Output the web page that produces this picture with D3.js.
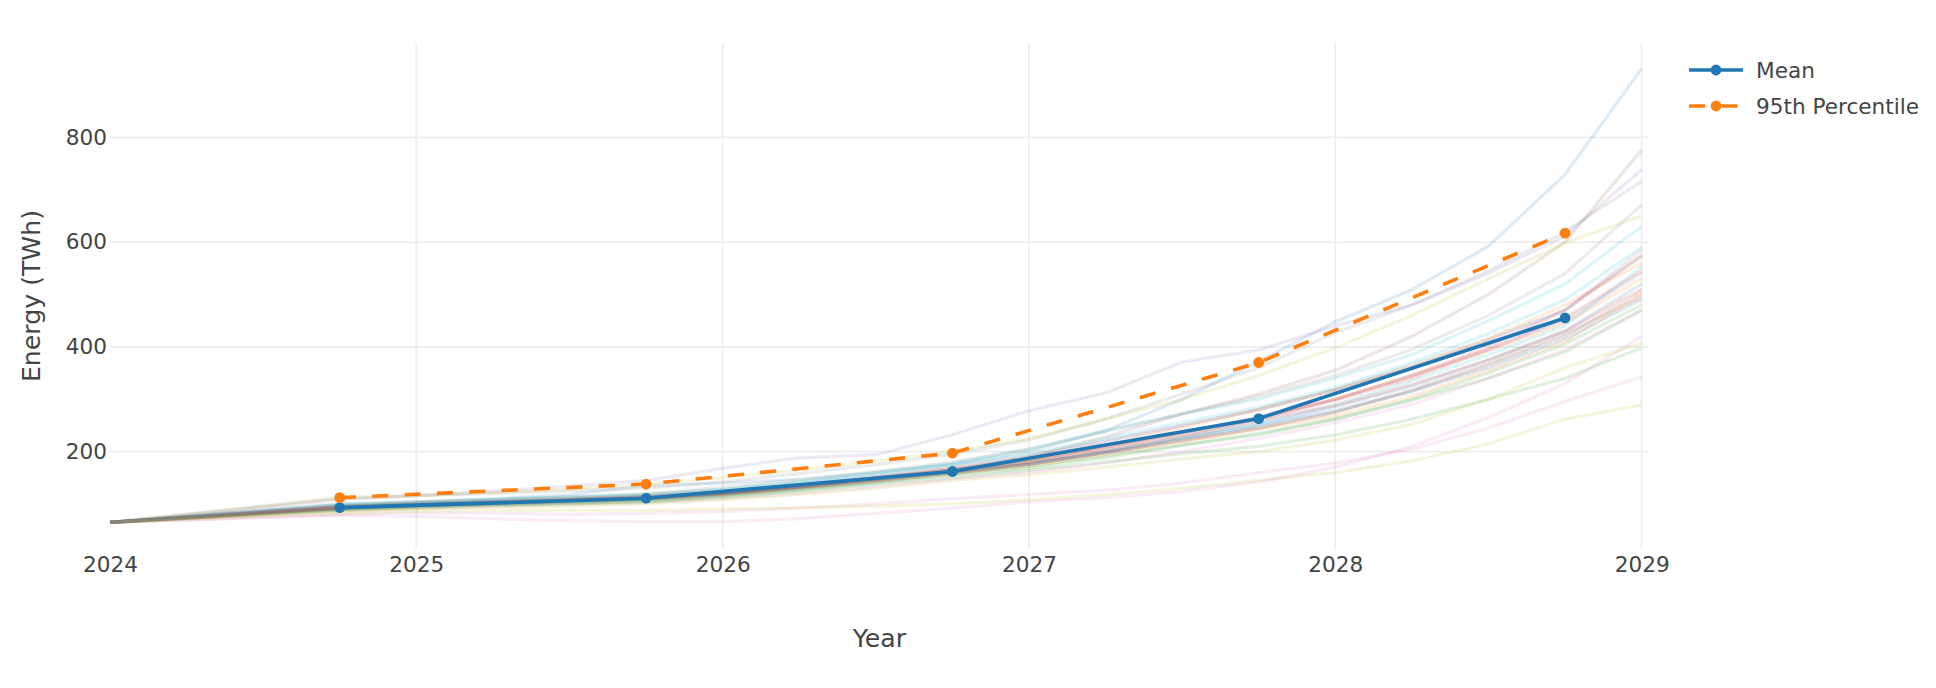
<!DOCTYPE html>
<html>
<head>
<meta charset="utf-8">
<script src="https://cdn.jsdelivr.net/npm/d3@7"></script>
<style>
  html, body { margin: 0; padding: 0; background: #fff; }
  svg { display: block; }
  text { font-family: "DejaVu Sans", Verdana, sans-serif; fill: #444; }
</style>
</head>
<body>
<div id="chart"></div>
<script>
// ---- data ----
const simYears = [2024, 2024.75, 2025, 2025.25, 2025.5, 2025.75, 2026, 2026.25, 2026.5, 2026.75,
                  2027, 2027.25, 2027.5, 2027.75, 2028, 2028.25, 2028.5, 2028.75, 2029];

const simulations = [
  [65, 100, 104, 110, 118, 135, 140, 147, 160, 175, 200, 240, 300, 372, 448, 509, 592, 729, 931],
  [65, 96, 101, 105, 110, 115, 124, 136, 150, 168, 184, 212, 246, 280, 318, 362, 415, 480, 560],
  [65, 88, 94, 98, 101, 105, 112, 124, 138, 150, 164, 180, 196, 210, 232, 262, 300, 340, 398],
  [65, 95, 100, 104, 109, 113, 121, 134, 149, 165, 184, 208, 236, 265, 300, 345, 400, 470, 575],
  [65, 108, 116, 124, 134, 145, 168, 188, 194, 232, 278, 312, 371, 394, 440, 480, 540, 612, 738],
  [65, 94, 99, 103, 108, 112, 120, 132, 148, 165, 190, 228, 272, 310, 355, 420, 500, 600, 776],
  [65, 80, 83, 82, 80, 82, 86, 92, 100, 110, 118, 126, 140, 160, 178, 205, 245, 296, 343],
  [65, 112, 116, 120, 125, 130, 142, 158, 175, 195, 222, 262, 310, 360, 427, 480, 545, 620, 716],
  [65, 110, 116, 122, 128, 138, 150, 165, 182, 200, 225, 262, 300, 345, 398, 460, 530, 598, 650],
  [65, 98, 103, 108, 113, 118, 128, 142, 160, 178, 205, 240, 272, 300, 340, 385, 450, 520, 630],
  [65, 92, 97, 101, 106, 110, 120, 134, 150, 165, 180, 200, 225, 250, 285, 325, 375, 430, 520],
  [65, 91, 96, 100, 104, 108, 118, 130, 144, 158, 172, 194, 218, 243, 268, 305, 355, 410, 500],
  [65, 88, 93, 97, 100, 104, 114, 126, 140, 155, 168, 188, 212, 235, 262, 298, 340, 390, 470],
  [65, 93, 98, 102, 107, 112, 120, 132, 146, 162, 180, 205, 232, 262, 298, 340, 395, 455, 545],
  [65, 94, 99, 104, 109, 114, 122, 136, 152, 168, 190, 220, 250, 280, 318, 360, 410, 470, 585],
  [65, 92, 97, 101, 105, 110, 119, 132, 147, 162, 176, 198, 222, 245, 275, 315, 365, 420, 505],
  [65, 87, 91, 95, 99, 102, 110, 120, 133, 148, 160, 178, 200, 225, 255, 290, 340, 395, 470],
  [65, 99, 104, 109, 114, 120, 132, 146, 162, 180, 205, 238, 272, 305, 345, 395, 460, 540, 671],
  [65, 82, 86, 87, 88, 88, 90, 93, 96, 100, 108, 118, 130, 145, 160, 182, 215, 262, 289],
  [65, 93, 98, 102, 107, 112, 120, 132, 146, 160, 178, 202, 228, 255, 290, 335, 385, 440, 553],
  [65, 90, 95, 99, 104, 108, 117, 130, 145, 160, 176, 198, 224, 250, 278, 315, 360, 415, 490],
  [65, 95, 100, 104, 109, 114, 124, 136, 150, 165, 182, 208, 236, 265, 300, 345, 392, 445, 530],
  [65, 89, 94, 98, 102, 106, 116, 128, 142, 158, 172, 192, 212, 232, 262, 300, 350, 405, 480],
  [65, 92, 97, 101, 106, 110, 118, 130, 143, 158, 176, 200, 228, 258, 288, 328, 375, 430, 510],
  [65, 95, 100, 105, 109, 114, 122, 135, 150, 165, 184, 210, 236, 262, 300, 345, 395, 450, 540],
  [65, 92, 97, 101, 106, 110, 120, 133, 148, 162, 176, 198, 220, 244, 275, 318, 368, 425, 495],
  [65, 78, 76, 72, 68, 66, 66, 72, 82, 92, 104, 112, 124, 142, 170, 210, 265, 330, 420],
  [65, 96, 101, 106, 111, 116, 126, 139, 154, 172, 192, 220, 250, 280, 318, 365, 415, 470, 573],
  [65, 86, 90, 93, 96, 100, 108, 118, 130, 145, 156, 170, 186, 200, 222, 252, 300, 360, 407],
  [65, 98, 103, 108, 113, 118, 128, 141, 157, 175, 196, 225, 256, 285, 322, 370, 425, 490, 590]
];

const statYears = [2024.75, 2025.75, 2026.75, 2027.75, 2028.75];
const meanValues = [93, 111, 162, 263, 455];
const p95Values = [112, 138, 197, 370, 617];

const xTickValues = [2024, 2025, 2026, 2027, 2028, 2029];
const yTickValues = [200, 400, 600, 800];

const seriesNames = ["Mean", "95th Percentile"];
const palette = ["#1f77b4", "#ff7f0e", "#2ca02c", "#d62728", "#9467bd",
                 "#8c564b", "#e377c2", "#7f7f7f", "#bcbd22", "#17becf"];

// ---- layout ----
const W = 1936, H = 688;
const plot = { left: 110, right: 1649, top: 43, bottom: 549 };
const S = 1.8; // plot scale

const svg = d3.select("#chart").append("svg").attr("width", W).attr("height", H);

const x = d3.scaleLinear().domain([2024, 2029.024]).range([plot.left, plot.right]);
const y = d3.scaleLinear().domain([14, 980]).range([plot.bottom, plot.top]);

// grid
const grid = svg.append("g");
grid.selectAll("line.h").data(yTickValues).join("line")
  .attr("x1", plot.left).attr("x2", plot.right)
  .attr("y1", d => y(d)).attr("y2", d => y(d))
  .attr("stroke", "#eee").attr("stroke-width", S);
grid.selectAll("line.v").data(xTickValues.filter(d => d > 2024)).join("line")
  .attr("x1", d => x(d)).attr("x2", d => x(d))
  .attr("y1", plot.top).attr("y2", plot.bottom)
  .attr("stroke", "#eee").attr("stroke-width", S);

// axes labels via d3 axes (no domain / tick lines)
const yAxis = svg.append("g").attr("transform", `translate(${plot.left - 3},0)`)
  .call(d3.axisLeft(y).tickValues(yTickValues).tickSize(0).tickPadding(0).tickFormat(d3.format("d")));
yAxis.select(".domain").remove();
yAxis.selectAll("text").attr("font-size", 21.6).attr("font-family", "DejaVu Sans").attr("fill", "#444");

const xAxis = svg.append("g").attr("transform", `translate(0,${plot.bottom + 8})`)
  .call(d3.axisBottom(x).tickValues(xTickValues).tickSize(0).tickPadding(0).tickFormat(d3.format("d")));
xAxis.select(".domain").remove();
xAxis.selectAll("text").attr("font-size", 21.6).attr("font-family", "DejaVu Sans").attr("fill", "#444");

// axis titles
svg.append("text").attr("x", (plot.left + plot.right) / 2).attr("y", 647)
  .attr("text-anchor", "middle").attr("font-size", 25.2).text("Year");
svg.append("text").attr("transform", `translate(39.5,${(plot.top + plot.bottom) / 2}) rotate(-90)`)
  .attr("text-anchor", "middle").attr("font-size", 25.2).text("Energy (TWh)");

// simulation lines
const line = d3.line().x((d, i) => x(simYears[i])).y(d => y(d));
svg.append("g").selectAll("path").data(simulations).join("path")
  .attr("d", d => line(d))
  .attr("fill", "none")
  .attr("stroke", (d, i) => palette[i % 10])
  .attr("stroke-opacity", 0.15)
  .attr("stroke-width", 3.2)
  .attr("stroke-linejoin", "round");

// stat lines
const statLine = d3.line().x((d, i) => x(statYears[i])).y(d => y(d));
const statSeries = [
  { name: seriesNames[0], values: meanValues, color: palette[0], dash: null },
  { name: seriesNames[1], values: p95Values, color: palette[1], dash: `${3 * 3 * S},${3 * 3 * S}` }
];
statSeries.forEach(s => {
  const g = svg.append("g");
  g.append("path").attr("d", statLine(s.values)).attr("fill", "none")
    .attr("stroke", s.color).attr("stroke-width", 2 * S)
    .attr("stroke-dasharray", s.dash);
  g.selectAll("circle").data(s.values).join("circle")
    .attr("cx", (d, i) => x(statYears[i])).attr("cy", d => y(d))
    .attr("r", 3 * S).attr("fill", s.color);
});

// legend
const legend = svg.append("g").attr("transform", "translate(1689,70)");
statSeries.forEach((s, i) => {
  const g = legend.append("g").attr("transform", `translate(0,${i * 36})`);
  g.append("line").attr("x1", 0).attr("x2", 54).attr("y1", 0).attr("y2", 0)
    .attr("stroke", s.color).attr("stroke-width", 2 * S).attr("stroke-dasharray", s.dash);
  g.append("circle").attr("cx", 27).attr("cy", 0).attr("r", 3 * S).attr("fill", s.color);
  g.append("text").attr("x", 67).attr("y", 0).attr("dy", "0.35em")
    .attr("font-size", 21.6).text(s.name);
});
</script>
</body>
</html>
